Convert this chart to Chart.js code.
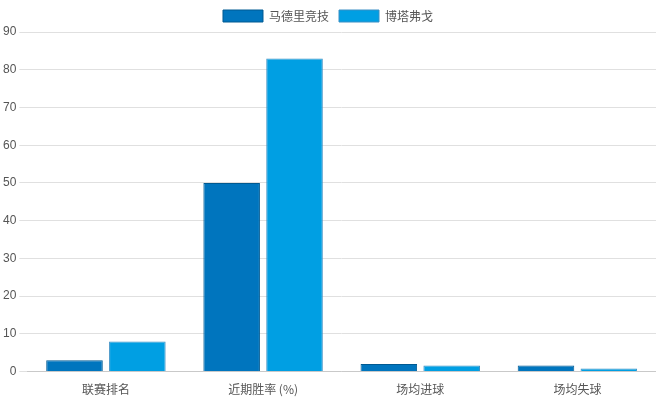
<!DOCTYPE html>
<html>
<head>
<meta charset="utf-8">
<script src="https://cdn.jsdelivr.net/npm/chart.js@4"></script>
<style>
    body { margin: 0; background: #fff; }
    #wrap { width: 656px; height: 400px; }
</style>
</head>
<body>
<div id="wrap"><canvas id="chart"></canvas></div>
<script>
const categories = ['联赛排名', '近期胜率 (%)', '场均进球', '场均失球'];
const team_a = '马德里竞技';
const team_b = '博塔弗戈';
const values_a = [3, 50, 2.0, 1.6];
const values_b = [8, 83, 1.6, 0.8];
const y_ticks = [0, 10, 20, 30, 40, 50, 60, 70, 80, 90];

const canv = document.getElementById('chart').getContext('2d');
const graph = new Chart(canv, {
    type: 'bar',
    data: {
        labels: categories,
        datasets: [{
            label: team_a,
            data: values_a,
            backgroundColor: '#0075be',
            borderColor: '#005a92',
            borderWidth: 1
        }, {
            label: team_b,
            data: values_b,
            backgroundColor: '#009fe3',
            borderColor: '#3a8fc4',
            borderWidth: 1
        }]
    },
    options: {
        responsive: true,
        maintainAspectRatio: false,
        animation: false,
        layout: {
            padding: { left: 0, right: 0, top: 0, bottom: 0 }
        },
        plugins: {
            legend: {
                labels: {
                    boxWidth: 40,
                    boxHeight: 12,
                    color: '#555',
                    font: { family: 'Noto Sans CJK SC', size: 12 }
                }
            }
        },
        scales: {
            x: {
                grid: { display: false },
                ticks: {
                    color: '#555',
                    font: { family: 'Noto Sans CJK SC', size: 12 }
                }
            },
            y: {
                min: 0,
                max: 90,
                afterBuildTicks: (axis) => {
                    axis.ticks = y_ticks.map(v => ({ value: v }));
                },
                grid: { color: '#e0e0e0' },
                border: { display: false },
                ticks: {
                    color: '#555',
                    font: { family: 'Arial', size: 12 }
                }
            }
        }
    }
});
</script>
</body>
</html>
